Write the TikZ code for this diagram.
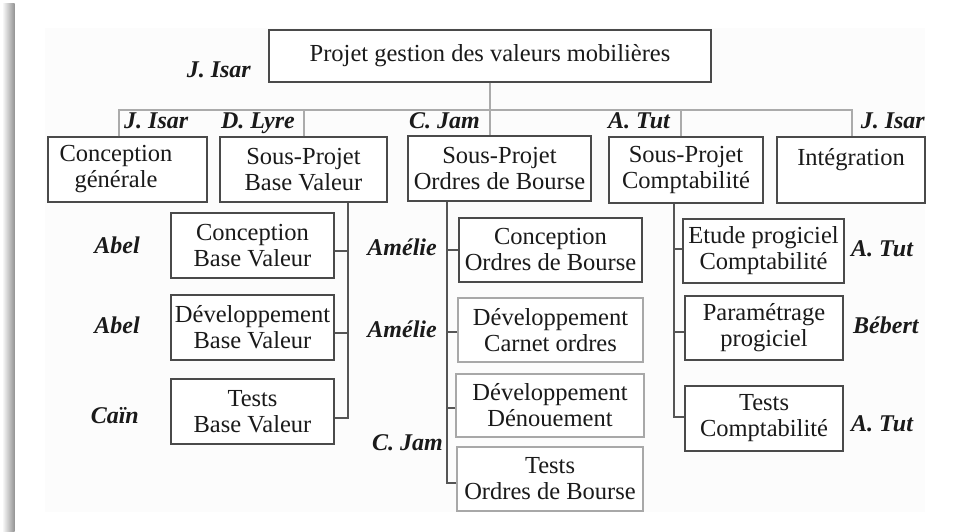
\documentclass[tikz,border=0pt]{standalone}
\usepackage{fontspec}
\setmainfont{Liberation Serif}
\usetikzlibrary{calc}
\definecolor{boxdark}{HTML}{4A4A4A}
\definecolor{boxlight}{HTML}{A8A8A8}
\definecolor{busgray}{HTML}{ABABAB}
\definecolor{conngray}{HTML}{555555}
\definecolor{txt}{HTML}{1A1A1A}
\definecolor{bgfaint}{HTML}{FCFCFC}
\newcommand\bx[7][]{%
  \node[box,#1,minimum width={(#5-#3)*1pt},minimum height={(#6-#4)*1pt}]
    (#2) at ({(#3+#5)/2},{(#4+#6)/2}) {#7};}
\begin{document}
\begin{tikzpicture}[x=1pt,y=-1pt,
  box/.style={draw=boxdark,line width=1.4pt,fill=white,inner sep=0pt,align=center,
    text=txt,font=\fontsize{24.5}{26}\selectfont},
  lightbox/.style={draw=boxlight},
  who/.style={inner sep=0pt,text=txt,font=\fontsize{24}{26}\selectfont\bfseries\itshape},
  bus/.style={draw=busgray,line width=1.2pt},
  conn/.style={draw=conngray,line width=1.4pt}]
\useasboundingbox (0,0) rectangle (964,532);
\fill[bgfaint] (45,28) rectangle (925,512);
\shade[left color=white,right color=black!42] (2,4) rectangle (14.5,532);

% top
\bx{top}{269}{30}{711}{82}{Projet gestion des valeurs mobilières}
\node[who,anchor=base east] (wtop) at (251,78) {J. Isar};

% level 1
\bx{cg}{48}{137}{207}{202}{Conception\hspace*{23pt}\\générale\hspace*{23pt}}
\bx{sp1}{220}{137}{387}{202}{Sous-Projet\\Base Valeur}
\bx{sp2}{408}{136}{591}{201}{Sous-Projet\\Ordres de Bourse}
\bx{sp3}{609}{137}{763}{203}{Sous-Projet\\Comptabilité}
\bx{int}{777}{137}{925}{203}{Intégration\\\mbox{}}

\node[who,anchor=base west] (wcg) at (124,129) {J. Isar};
\node[who,anchor=base east] (wsp1) at (295,129) {D. Lyre};
\node[who,anchor=base east] (wsp2) at (480,129) {C. Jam};
\node[who,anchor=base east] (wsp3) at (670,129) {A. Tut};
\node[who,anchor=base east] (wint) at (925,129) {J. Isar};

% bus
\coordinate (bus) at (490,110);
\draw[bus] ([xshift=-8.5pt]cg.north) |- (bus) -| ([xshift=1pt]int.north);
\draw[bus] (top.south) -- ([xshift=-9.5pt]sp2.north);
\draw[bus] ([xshift=0.5pt]sp1.north) |- (bus);
\draw[bus] ([xshift=-5pt]sp3.north) |- (bus);

% Base Valeur
\bx{bv1}{171}{213}{334}{278}{Conception\\Base Valeur}
\bx{bv2}{171}{295}{334}{360}{Développement\\Base Valeur}
\bx{bv3}{171}{379}{334}{444}{Tests\\Base Valeur}
\coordinate (bvx) at ([xshift=44.5pt]sp1.south);
\draw[conn] ([yshift=-5.5pt]bv1.east) -| (bvx);
\draw[conn] ([yshift=-5.5pt]bv2.east) -| (bvx);
\draw[conn] ([yshift=-6.5pt]bv3.east) -| (bvx);
\node[who,anchor=base east] (a1) at (140,253) {Abel};
\node[who,anchor=base east] (a2) at (140,333) {Abel};
\node[who,anchor=base east] (a3) at (139,423) {Caïn};

% Ordres de Bourse
\bx{ob1}{459}{218}{642}{282}{Conception\\Ordres de Bourse}
\bx[lightbox]{ob2}{458}{298}{643}{362}{Développement\\Carnet ordres}
\bx[lightbox]{ob3}{456}{374}{644}{437}{Développement\\Dénouement}
\bx[lightbox]{ob4}{457}{447}{643}{511}{Tests\\Ordres de Bourse}
\coordinate (obx) at ([xshift=-52.5pt]sp2.south);
\draw[conn] (ob1.west) -| (obx);
\draw[conn] ([yshift=-2pt]ob2.west) -| (obx);
\draw[conn] ([yshift=-2.5pt]ob3.west) -| (obx);
\draw[conn] ([yshift=-4pt]ob4.west) -| (obx);
\node[who,anchor=base east] (m1) at (437,255) {Amélie};
\node[who,anchor=base east] (m2) at (437,337) {Amélie};
\node[who,anchor=base east] (m3) at (443,450) {C. Jam};

% Comptabilite
\bx{cp1}{683}{219}{844}{283}{Etude progiciel\\Comptabilité}
\bx{cp2}{685}{296}{843}{360}{Paramétrage\\progiciel}
\bx{cp3}{685}{386}{843}{451}{Tests\\Comptabilité}
\coordinate (cpx) at ([xshift=-12pt]sp3.south);
\draw[conn] ([yshift=2pt]cp1.west) -| (cpx);
\draw[conn] ([yshift=-4pt]cp2.west) -| (cpx);
\draw[conn] ([yshift=1.5pt]cp3.west) -| (cpx);
\node[who,anchor=base west] (t1) at (851,256) {A. Tut};
\node[who,anchor=base west] (t2) at (853,333) {Bébert};
\node[who,anchor=base west] (t3) at (851,431) {A. Tut};
\end{tikzpicture}
\end{document}
